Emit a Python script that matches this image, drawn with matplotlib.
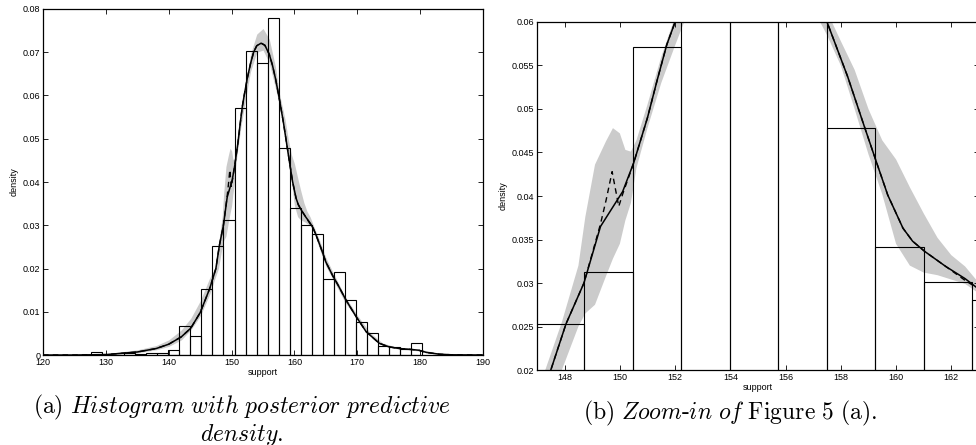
import numpy as np
import matplotlib
matplotlib.use('Agg')
from matplotlib import pyplot as plt
from matplotlib.ticker import FormatStrFormatter

plt.rcParams['font.family'] = ['Liberation Sans', 'DejaVu Sans']
plt.rcParams['mathtext.fontset'] = 'cm'

# histogram (density), equal-width bins starting at bin_start
bin_start = 127.65
bin_width = 1.755
heights = [0.0006, 0.0, 0.0, 0.0005, 0.0003, 0.0005, 0.0004, 0.0011, 0.0066, 0.0044,
           0.0153, 0.0253, 0.0313, 0.0571, 0.0703, 0.0676, 0.0780, 0.0478, 0.0341, 0.0301,
           0.0280, 0.0176, 0.0193, 0.0127, 0.0077, 0.0050, 0.0022, 0.0019, 0.0014, 0.0027]

# posterior predictive density (solid)
dens_x = [120, 125, 130, 135, 138, 140, 142, 143.5, 145, 146.5, 147.5, 148.05, 148.7, 149.3,
          149.7, 150.1, 150.5, 151, 151.35, 151.7, 152, 152.5, 153, 153.5, 154, 154.7, 155.3,
          156, 156.5, 157, 157.5, 158.25, 158.85, 159.3, 159.7, 160.25, 160.6, 161.05, 161.8,
          162.5, 162.95, 163.5, 164.2, 165, 166.1, 167, 168.2, 169.8, 171.4, 173.5, 175, 176.7,
          178.5, 179.8, 181, 183, 185, 190]
dens_y = [0, 0, 0.0001, 0.0007, 0.0015, 0.0025, 0.0042, 0.0062, 0.0098, 0.0153, 0.0200, 0.0253,
          0.0300, 0.0365, 0.0385, 0.0405, 0.0438, 0.0490, 0.0533, 0.0574, 0.0600, 0.0640, 0.0673,
          0.0700, 0.0715, 0.0721, 0.0716, 0.0695, 0.0670, 0.0638, 0.0600, 0.0537, 0.0480, 0.0438,
          0.0401, 0.0363, 0.0348, 0.0336, 0.0319, 0.0305, 0.0294, 0.0275, 0.0248, 0.0215, 0.0183,
          0.0160, 0.0127, 0.0089, 0.0054, 0.0027, 0.0019, 0.0015, 0.0013, 0.0011, 0.0006, 0.0002,
          0.00005, 0]

# second estimate (dashed)
dash_x = [120, 125, 130, 135, 138, 140, 142, 143.5, 145, 146.5, 147.5, 148.05, 148.7, 149.3,
          149.5, 149.72, 149.96, 150.1, 150.5, 151, 151.35, 151.7, 152, 152.5, 153, 153.5, 154,
          154.7, 155.3, 156, 156.5, 157, 157.5, 158.25, 158.85, 159.3, 159.7, 160.25, 160.6,
          161.05, 161.8, 162.5, 162.95, 163.5, 164.2, 165, 166.1, 167, 168.2, 169.8, 171.4,
          173.5, 175, 176.7, 178.5, 179.8, 181, 183, 185, 190]
dash_y = [0, 0, 0.0001, 0.0007, 0.0015, 0.0025, 0.0042, 0.0062, 0.0098, 0.0153, 0.0200, 0.0253,
          0.0300, 0.0368, 0.0395, 0.0428, 0.0388, 0.0402, 0.0438, 0.0490, 0.0533, 0.0574, 0.0600,
          0.0640, 0.0673, 0.0700, 0.0715, 0.0721, 0.0716, 0.0695, 0.0670, 0.0638, 0.0600, 0.0537,
          0.0480, 0.0438, 0.0401, 0.0363, 0.0348, 0.0336, 0.0319, 0.0303, 0.0294, 0.0275, 0.0248,
          0.0215, 0.0183, 0.0160, 0.0127, 0.0089, 0.0054, 0.0027, 0.0019, 0.0015, 0.0013, 0.0011,
          0.0006, 0.0002, 0.00005, 0]

# credible band
band_x = [120, 130, 135, 138, 140, 142, 143.5, 145, 146.5, 147.3, 147.9, 148.5, 148.75, 149.1,
          149.5, 149.75, 150.0, 150.2, 150.4, 150.6, 151, 151.5, 152, 153, 154, 155, 156, 157,
          157.5, 158, 158.5, 159, 159.5, 160, 160.5, 161, 161.5, 162, 162.5, 163, 164, 165, 166,
          168, 170, 172, 174, 176, 178, 180, 183, 186, 190]
band_lo = [0, 0, 0.0005, 0.0012, 0.0020, 0.0035, 0.0058, 0.0090, 0.0140, 0.0175, 0.0200, 0.0250,
           0.0265, 0.0275, 0.0308, 0.0328, 0.0345, 0.0372, 0.0392, 0.0432, 0.0478, 0.0530, 0.0573,
           0.0655, 0.0700, 0.0705, 0.0675, 0.0615, 0.0585, 0.0550, 0.0500, 0.0448, 0.0402, 0.0345,
           0.0320, 0.0312, 0.0309, 0.0304, 0.0299, 0.0288, 0.0245, 0.0205, 0.0178, 0.0123, 0.0082,
           0.0045, 0.0023, 0.0015, 0.0012, 0.0009, 0.0001, 0, 0]
band_hi = [0, 0.0003, 0.0012, 0.0022, 0.0035, 0.0058, 0.0085, 0.0125, 0.0178, 0.0200, 0.0255,
           0.0320, 0.0376, 0.0436, 0.0463, 0.0478, 0.0472, 0.0453, 0.0451, 0.0464, 0.0505, 0.0560,
           0.0606, 0.0695, 0.0742, 0.0755, 0.0730, 0.0665, 0.0612, 0.0578, 0.0545, 0.0500, 0.0464,
           0.0442, 0.0410, 0.0380, 0.0352, 0.0332, 0.0319, 0.0300, 0.0265, 0.0225, 0.0195, 0.0137,
           0.0092, 0.0052, 0.0028, 0.0019, 0.0016, 0.0013, 0.0004, 0.0001, 0]

edges = bin_start + bin_width * np.arange(len(heights))


def panel(ax):
    ax.fill_between(band_x, band_lo, band_hi, color='#cbcbcb', lw=0, zorder=1)
    ax.bar(edges, heights, width=bin_width, align='edge', fill=False,
           edgecolor='black', linewidth=0.8, zorder=2)
    ax.plot(dens_x, dens_y, color='black', lw=1.1, zorder=3)
    ax.plot(dash_x, dash_y, color='black', lw=1.0, ls=(0, (4, 3)), zorder=3)
    ax.tick_params(direction='in', top=True, right=True, length=3.5, width=0.6,
                   labelsize=6.5, pad=2)
    for s in ax.spines.values():
        s.set_linewidth(0.9)
    ax.yaxis.set_major_formatter(FormatStrFormatter('%g'))
    ax.xaxis.set_major_formatter(FormatStrFormatter('%g'))
    ax.set_xlabel('support', fontsize=6.5, labelpad=1)
    ax.set_ylabel('density', fontsize=6.5, labelpad=3)


fig = plt.figure(figsize=(9.76, 4.45), dpi=100)

ax1 = fig.add_axes([0.0441, 0.2022, 0.4508, 0.7776])
panel(ax1)
ax1.set_xlim(120, 190)
ax1.set_ylim(0, 0.08)
ax1.set_xticks(np.arange(120, 191, 10))
ax1.set_yticks(np.arange(0, 0.081, 0.01))

ax2 = fig.add_axes([0.5502, 0.1685, 0.4528, 0.7821])
panel(ax2)
ax2.set_xlim(147, 163)
ax2.set_ylim(0.02, 0.06)
ax2.set_xticks(np.arange(148, 163, 2))
ax2.set_yticks(np.arange(0.02, 0.0601, 0.005))

fig.text(0.248, 0.085, r'$\mathrm{(a)}\ \mathit{Histogram\ with\ posterior\ predictive}$',
         ha='center', va='center', fontsize=17)
fig.text(0.248, 0.022, r'$\mathit{density.}$', ha='center', va='center', fontsize=17)
fig.text(0.748, 0.072, r'$\mathrm{(b)}\ \mathit{Zoom\text{-}in\ of}\ \mathrm{Figure\ 5\ (a).}$',
         ha='center', va='center', fontsize=17)

fig.savefig('out.png', dpi=100)
